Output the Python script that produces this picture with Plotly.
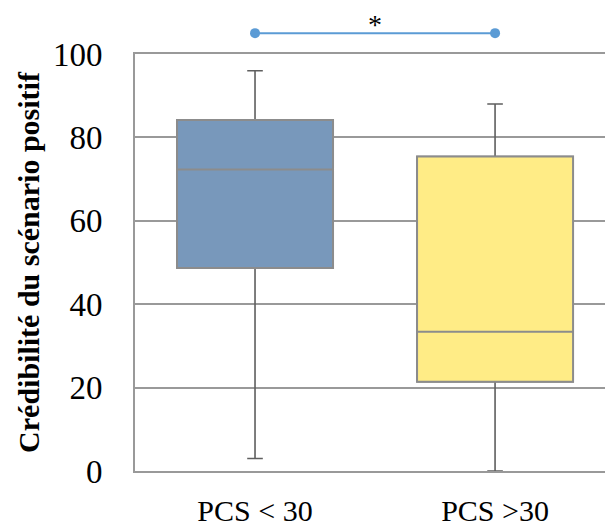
import plotly.graph_objects as go

categories = ["PCS < 30", "PCS >30"]
q1_vals = [48.7, 21.4]
median_vals = [72.3, 33.4]
q3_vals = [84.2, 75.4]
lower_vals = [3, 0]
upper_vals = [96, 88]
fill_colors = ["#7898BB", "#FFEC86"]
y_ticks = [0, 20, 40, 60, 80, 100]
sig_pair = ["PCS < 30", "PCS >30"]
sig_level = [105, 105]
sig_text = "*"

H, W = 526, 605
top_px, bot_px = 54, 55
plot_h = H - bot_px
main_top = (H - top_px - bot_px) / plot_h
px_per_unit = (H - top_px - bot_px) / 100

fig = go.Figure()

# whiskers (dark)
for i, c in enumerate(categories):
    fig.add_trace(go.Box(
        x=[c], q1=[q1_vals[i]], median=[median_vals[i]], q3=[q3_vals[i]],
        lowerfence=[lower_vals[i]], upperfence=[upper_vals[i]],
        width=0.65, whiskerwidth=0.1, fillcolor="rgba(0,0,0,0)",
        line=dict(color="#5f5f5f", width=1.6), showlegend=False,
        hoverinfo="skip", boxpoints=False))

# boxes (gray outline)
for i, c in enumerate(categories):
    fig.add_trace(go.Box(
        x=[c], q1=[q1_vals[i]], median=[median_vals[i]], q3=[q3_vals[i]],
        lowerfence=[q1_vals[i]], upperfence=[q3_vals[i]],
        width=0.65, whiskerwidth=0.1, fillcolor=fill_colors[i],
        line=dict(color="#8c8c8c", width=2), showlegend=False,
        boxpoints=False))

# significance bar on an upper strip axis with the same scale
fig.add_trace(go.Scatter(
    x=sig_pair, y=sig_level, mode="lines+markers", yaxis="y2",
    line=dict(color="#5b9bd5", width=2),
    marker=dict(color="#5b9bd5", size=10),
    cliponaxis=False, showlegend=False, hoverinfo="skip"))

fig.add_annotation(x=0.5, y=107, xref="x", yref="y2", text=sig_text,
                   showarrow=False, yanchor="middle",
                   font=dict(family="Liberation Serif", size=28, color="#000"))

fig.update_layout(
    width=W, height=H,
    margin=dict(l=135, r=0, t=0, b=bot_px, autoexpand=False),
    paper_bgcolor="white", plot_bgcolor="white",
    boxmode="overlay",
    font=dict(family="Liberation Serif", color="#000"),
    yaxis2=dict(domain=[main_top, 1], range=[100, 100 + top_px / px_per_unit],
                visible=False, anchor="x", fixedrange=True),
)
fig.update_xaxes(
    type="category", range=[-0.5, 1.458], automargin=False,
    showline=True, linecolor="#999999", linewidth=2, mirror=True,
    showgrid=False, ticks="", ticklabelstandoff=12,
    tickfont=dict(family="Liberation Serif", size=30, color="#000"),
)
fig.update_layout(yaxis=dict(
    domain=[0, main_top], automargin=False,
    range=[0, 100], tickvals=y_ticks,
    showline=True, linecolor="#999999", linewidth=2,
    showgrid=True, gridcolor="#999999", gridwidth=1.5,
    zeroline=False, ticks="", ticklabelstandoff=24,
    tickfont=dict(family="Liberation Serif", size=33, color="#000"),
    title=dict(text="<b>Crédibilité du scénario positif</b>", standoff=4,
               font=dict(family="Liberation Serif", size=30, color="#000")),
))

fig.write_html("out.html", config={"displayModeBar": False},
               post_script="document.body.style.margin='0';")
